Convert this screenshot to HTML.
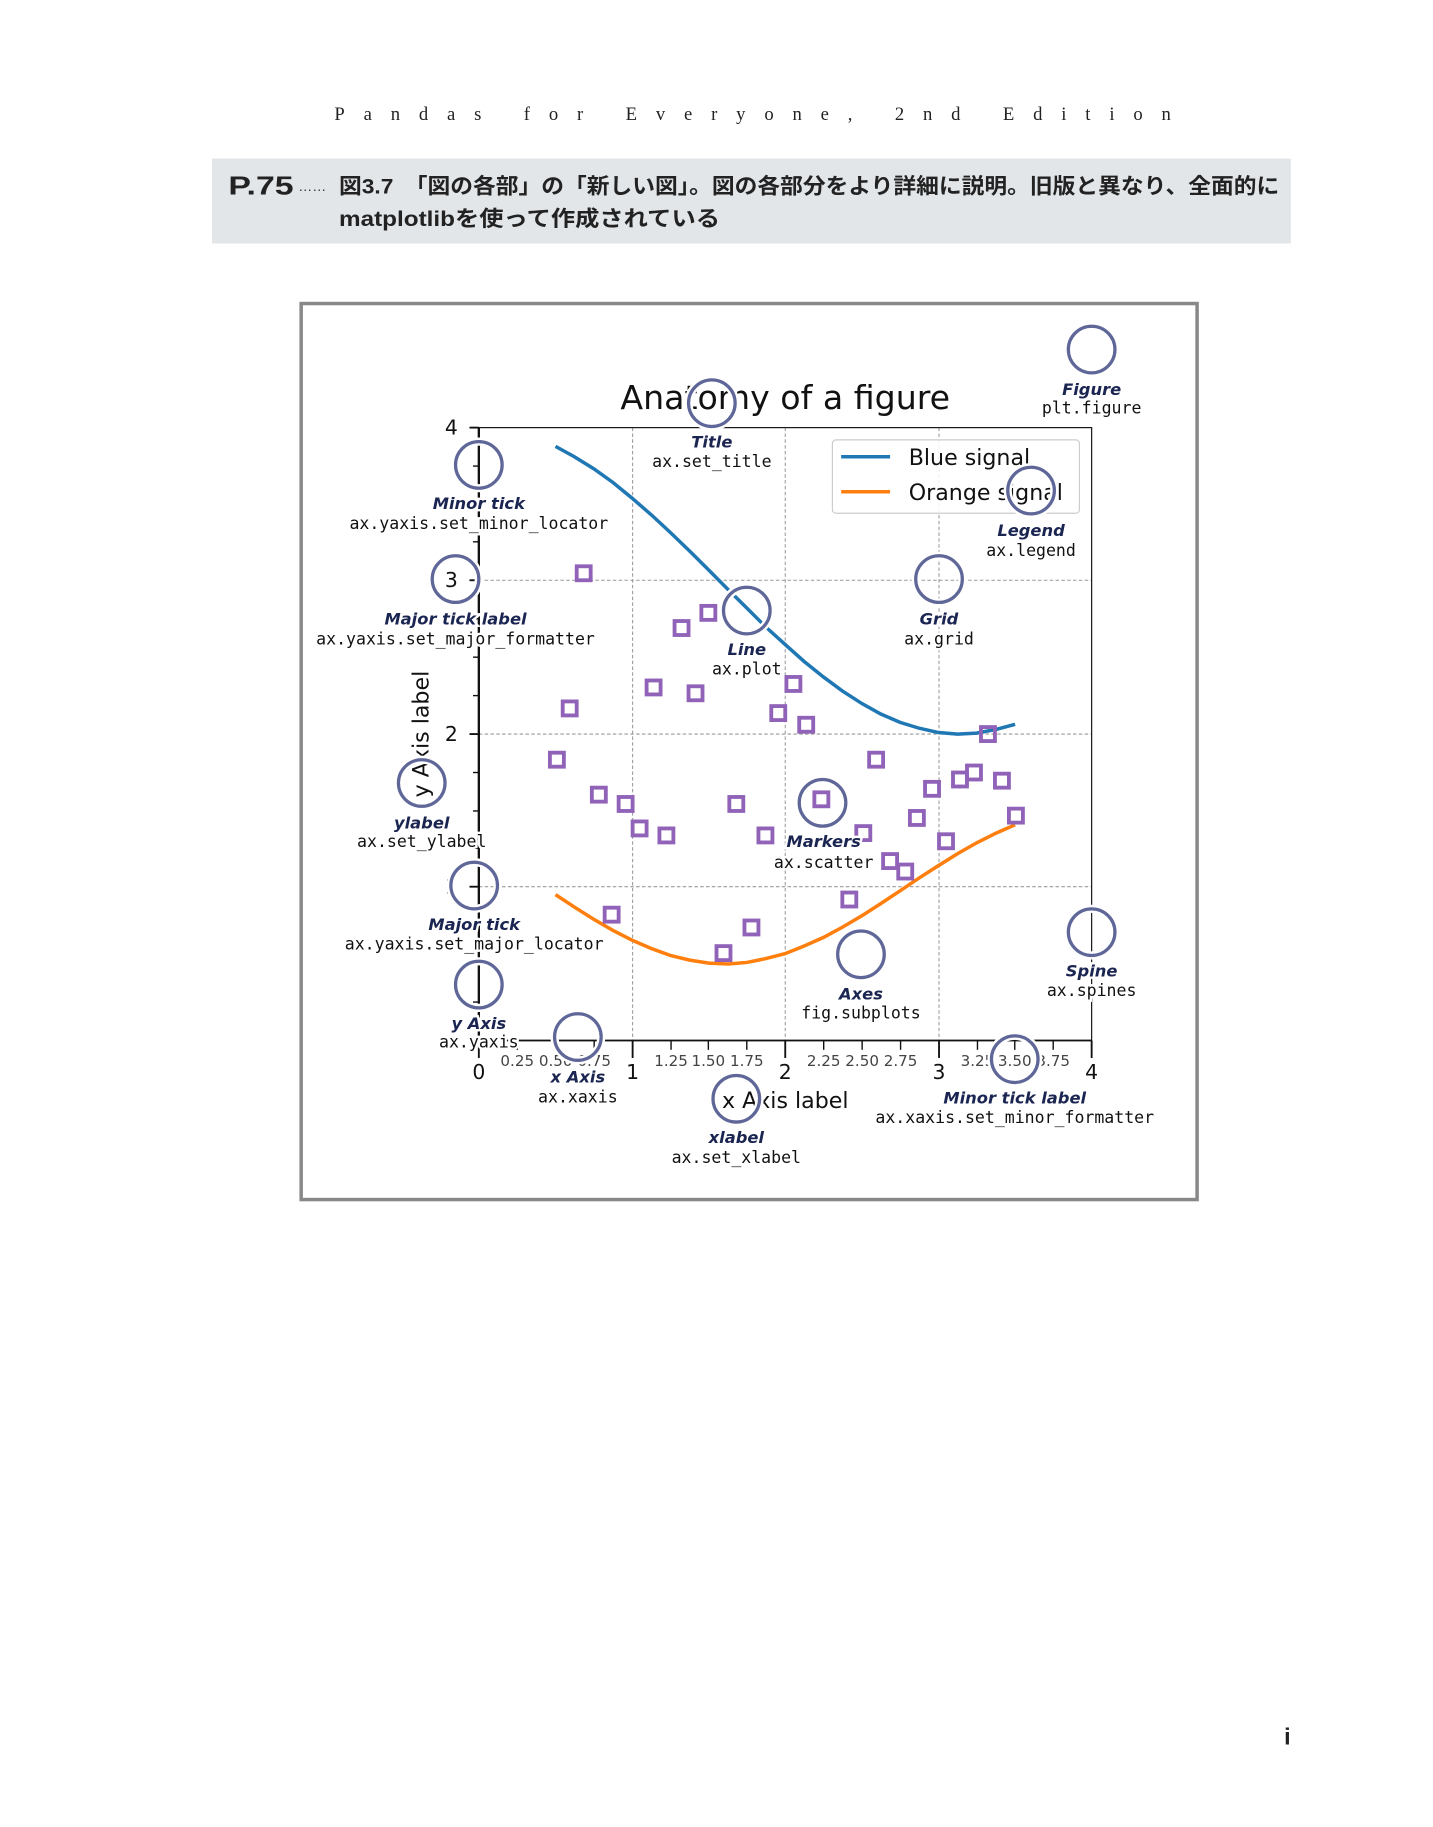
<!DOCTYPE html>
<html><head><meta charset="utf-8"><style>
html,body{margin:0;padding:0;background:#fff;}
svg{display:block;}
.an{font-family:"DejaVu Sans",sans-serif;font-weight:bold;font-style:italic;font-size:14px;fill:#1b2551;stroke:#fff;stroke-width:4;paint-order:stroke;}
.cd{font-family:"DejaVu Sans Mono","Liberation Mono",monospace;font-size:14.2px;fill:#111;stroke:#fff;stroke-width:4;paint-order:stroke;}
.tk{font-family:"DejaVu Sans",sans-serif;font-size:17.5px;fill:#111;}
.mt{font-family:"DejaVu Sans",sans-serif;font-size:13px;fill:#444;}
</style></head><body>
<svg width="1433" height="1827" viewBox="0 0 1230 1568" preserveAspectRatio="none" xmlns="http://www.w3.org/2000/svg">
<rect width="1230" height="1568" fill="#fff"/>
<text x="287" y="103" font-family="Liberation Serif,serif" font-size="16" textLength="718" lengthAdjust="spacing" fill="#222">Pandas for Everyone, 2nd Edition</text>
<rect x="182" y="136" width="926" height="73" fill="#e2e6e9"/>
<text x="196" y="167" font-family="Liberation Sans,sans-serif" font-weight="bold" font-size="22" fill="#222" textLength="56" lengthAdjust="spacingAndGlyphs">P.75</text>
<text x="256" y="164" font-family="Liberation Sans,sans-serif" font-size="12" fill="#333">……</text>
<text x="291" y="166" font-family="Liberation Sans,'Noto Sans CJK JP',sans-serif" font-weight="bold" font-size="18.5" textLength="807" lengthAdjust="spacingAndGlyphs" fill="#222">図3.7　「図の各部」の「新しい図」。図の各部分をより詳細に説明。旧版と異なり、全面的に</text>
<text x="291" y="194" font-family="Liberation Sans,'Noto Sans CJK JP',sans-serif" font-weight="bold" font-size="18.5" textLength="327" lengthAdjust="spacingAndGlyphs" fill="#222">matplotlibを使って作成されている</text>
<rect x="258.5" y="260.5" width="769" height="769" fill="#fff" stroke="#888" stroke-width="3"/>
<g stroke="#999" stroke-width="0.9" stroke-dasharray="3,2" fill="none">
<line x1="543" y1="367" x2="543" y2="893"/><line x1="674" y1="367" x2="674" y2="893"/><line x1="806" y1="367" x2="806" y2="893"/>
<line x1="411" y1="498" x2="937" y2="498"/><line x1="411" y1="630" x2="937" y2="630"/><line x1="411" y1="761" x2="937" y2="761"/>
</g>
<rect x="411" y="367" width="526" height="526" fill="none" stroke="#111" stroke-width="1"/>
<line x1="411" y1="367" x2="411" y2="893" stroke="#111" stroke-width="2"/>
<line x1="411" y1="893" x2="937" y2="893" stroke="#111" stroke-width="1.6"/>
<g stroke="#111" stroke-width="1.6">
<line x1="403" y1="367" x2="411" y2="367"/><line x1="403" y1="498" x2="411" y2="498"/><line x1="403" y1="630" x2="411" y2="630"/><line x1="403" y1="761" x2="411" y2="761"/><line x1="403" y1="893" x2="411" y2="893"/>
</g>
<g stroke="#111" stroke-width="1.2">
<line x1="406" y1="400" x2="411" y2="400"/><line x1="406" y1="433" x2="411" y2="433"/><line x1="406" y1="465" x2="411" y2="465"/><line x1="406" y1="531" x2="411" y2="531"/><line x1="406" y1="564" x2="411" y2="564"/><line x1="406" y1="597" x2="411" y2="597"/><line x1="406" y1="663" x2="411" y2="663"/><line x1="406" y1="696" x2="411" y2="696"/><line x1="406" y1="728" x2="411" y2="728"/><line x1="406" y1="794" x2="411" y2="794"/><line x1="406" y1="827" x2="411" y2="827"/><line x1="406" y1="860" x2="411" y2="860"/>
</g>
<g stroke="#111" stroke-width="1.6">
<line x1="411" y1="893" x2="411" y2="908"/><line x1="543" y1="893" x2="543" y2="908"/><line x1="674" y1="893" x2="674" y2="908"/><line x1="806" y1="893" x2="806" y2="908"/><line x1="937" y1="893" x2="937" y2="908"/>
</g>
<g stroke="#111" stroke-width="1.2">
<line x1="444" y1="893" x2="444" y2="901"/><line x1="477" y1="893" x2="477" y2="901"/><line x1="510" y1="893" x2="510" y2="901"/><line x1="576" y1="893" x2="576" y2="901"/><line x1="608" y1="893" x2="608" y2="901"/><line x1="641" y1="893" x2="641" y2="901"/><line x1="707" y1="893" x2="707" y2="901"/><line x1="740" y1="893" x2="740" y2="901"/><line x1="773" y1="893" x2="773" y2="901"/><line x1="839" y1="893" x2="839" y2="901"/><line x1="871" y1="893" x2="871" y2="901"/><line x1="904" y1="893" x2="904" y2="901"/>
</g>
<g class="tk" text-anchor="end">
<text x="393" y="373">4</text><text x="393" y="504">3</text><text x="393" y="636">2</text><text x="393" y="767">1</text>
</g>
<g class="tk" text-anchor="middle">
<text x="411" y="926">0</text><text x="543" y="926">1</text><text x="674" y="926">2</text><text x="806" y="926">3</text><text x="937" y="926">4</text>
</g>
<g class="mt" text-anchor="middle">
<text x="444" y="915">0.25</text><text x="477" y="915">0.50</text><text x="510" y="915">0.75</text><text x="576" y="915">1.25</text><text x="608" y="915">1.50</text><text x="641" y="915">1.75</text><text x="707" y="915">2.25</text><text x="740" y="915">2.50</text><text x="773" y="915">2.75</text><text x="839" y="915">3.25</text><text x="871" y="915">3.50</text><text x="904" y="915">3.75</text>
</g>
<polyline fill="none" stroke="#1f77b4" stroke-width="3" points="476.8,383.1 493,392 509.6,402.3 526,414 542.5,427.5 559,441.8 575.4,457 592,473 608.3,489.2 625,506 641.1,521.9 657,537.8 674,553.2 690,567.5 706.9,581.1 723,593 739.8,603.8 756,612.8 772.6,620 789,625 805.5,628.7 822,630 838.4,629.2 855,626 871.3,621.6"/>
<polyline fill="none" stroke="#ff7f0e" stroke-width="3" points="476.8,767.8 493,778.5 509.6,788.9 526,798.4 542.5,806.9 559,814 575.4,820 592,824 608.3,826.6 625,827.3 641.1,826 657,822.8 674,818.4 690,812 706.9,804.5 723,795.8 739.8,785.9 756,775.5 772.6,764.5 789,753.5 805.5,742.9 822,732.6 838.4,723.3 855,715 871.3,707.9"/>
<g fill="none" stroke="#9063b9" stroke-width="3.3">
<rect x="495" y="486" width="12" height="12"/><rect x="579" y="533" width="12" height="12"/><rect x="602" y="520" width="12" height="12"/><rect x="483" y="602" width="12" height="12"/><rect x="555" y="584" width="12" height="12"/><rect x="591" y="589" width="12" height="12"/><rect x="675" y="581" width="12" height="12"/><rect x="662" y="606" width="12" height="12"/><rect x="686" y="616" width="12" height="12"/><rect x="472" y="646" width="12" height="12"/><rect x="508" y="676" width="12" height="12"/><rect x="531" y="684" width="12" height="12"/><rect x="543" y="705" width="12" height="12"/><rect x="566" y="711" width="12" height="12"/><rect x="626" y="684" width="12" height="12"/><rect x="651" y="711" width="12" height="12"/><rect x="699" y="680" width="12" height="12"/><rect x="735" y="709" width="12" height="12"/><rect x="746" y="646" width="12" height="12"/><rect x="758" y="733" width="12" height="12"/><rect x="771" y="742" width="12" height="12"/><rect x="723" y="766" width="12" height="12"/><rect x="781" y="696" width="12" height="12"/><rect x="794" y="671" width="12" height="12"/><rect x="806" y="716" width="12" height="12"/><rect x="818" y="663" width="12" height="12"/><rect x="830" y="657" width="12" height="12"/><rect x="842" y="624" width="12" height="12"/><rect x="854" y="664" width="12" height="12"/><rect x="866" y="694" width="12" height="12"/><rect x="519" y="779" width="12" height="12"/><rect x="639" y="790" width="12" height="12"/><rect x="615" y="812" width="12" height="12"/>
</g>
<rect x="714.5" y="377.5" width="212" height="63" rx="3" fill="#fff" fill-opacity="0.85" stroke="#ccc" stroke-width="1"/>
<line x1="722" y1="392" x2="764" y2="392" stroke="#1f77b4" stroke-width="3"/>
<line x1="722" y1="422" x2="764" y2="422" stroke="#ff7f0e" stroke-width="3"/>
<text x="780" y="399" font-family="DejaVu Sans,sans-serif" font-size="19" fill="#111">Blue signal</text>
<text x="780" y="429" font-family="DejaVu Sans,sans-serif" font-size="19" fill="#111">Orange signal</text>
<text x="674" y="351" text-anchor="middle" font-family="DejaVu Sans,sans-serif" font-size="28.5" fill="#111">Anatomy of a figure</text>
<text transform="translate(368,630) rotate(-90)" text-anchor="middle" font-family="DejaVu Sans,sans-serif" font-size="19" fill="#111">y Axis label</text>
<text x="674" y="951" text-anchor="middle" font-family="DejaVu Sans,sans-serif" font-size="19" fill="#111">x Axis label</text>
<g fill="none">
<g stroke="#fff" stroke-width="7">
<circle cx="937" cy="300" r="20"/><circle cx="611" cy="346" r="20"/><circle cx="411" cy="399" r="20"/><circle cx="391" cy="497" r="20"/><circle cx="641" cy="524" r="20"/><circle cx="806" cy="497" r="20"/><circle cx="885" cy="421" r="20"/><circle cx="362" cy="672" r="20"/><circle cx="706" cy="689" r="20"/><circle cx="407" cy="760" r="20"/><circle cx="411" cy="845" r="20"/><circle cx="739" cy="819" r="20"/><circle cx="937" cy="800" r="20"/><circle cx="496" cy="890" r="20"/><circle cx="632" cy="943" r="20"/><circle cx="871" cy="909" r="20"/>
</g>
<g stroke="#5f6798" stroke-width="2.8">
<circle cx="937" cy="300" r="20"/><circle cx="611" cy="346" r="20"/><circle cx="411" cy="399" r="20"/><circle cx="391" cy="497" r="20"/><circle cx="641" cy="524" r="20"/><circle cx="806" cy="497" r="20"/><circle cx="885" cy="421" r="20"/><circle cx="362" cy="672" r="20"/><circle cx="706" cy="689" r="20"/><circle cx="407" cy="760" r="20"/><circle cx="411" cy="845" r="20"/><circle cx="739" cy="819" r="20"/><circle cx="937" cy="800" r="20"/><circle cx="496" cy="890" r="20"/><circle cx="632" cy="943" r="20"/><circle cx="871" cy="909" r="20"/>
</g>
</g>
<g text-anchor="middle">
<text class="an" x="937" y="339">Figure</text><text class="cd" x="937" y="355">plt.figure</text>
<text class="an" x="611" y="384">Title</text><text class="cd" x="611" y="401">ax.set_title</text>
<text class="an" x="411" y="437">Minor tick</text><text class="cd" x="411" y="454">ax.yaxis.set_minor_locator</text>
<text class="an" x="391" y="536">Major tick label</text><text class="cd" x="391" y="553">ax.yaxis.set_major_formatter</text>
<text class="an" x="641" y="562">Line</text><text class="cd" x="641" y="579">ax.plot</text>
<text class="an" x="806" y="536">Grid</text><text class="cd" x="806" y="553">ax.grid</text>
<text class="an" x="885" y="460">Legend</text><text class="cd" x="885" y="477">ax.legend</text>
<text class="an" x="362" y="711">ylabel</text><text class="cd" x="362" y="727">ax.set_ylabel</text>
<text class="an" x="707" y="727">Markers</text><text class="cd" x="707" y="745">ax.scatter</text>
<text class="an" x="407" y="798">Major tick</text><text class="cd" x="407" y="815">ax.yaxis.set_major_locator</text>
<text class="an" x="411" y="883">y Axis</text><text class="cd" x="411" y="899">ax.yaxis</text>
<text class="an" x="739" y="858">Axes</text><text class="cd" x="739" y="874">fig.subplots</text>
<text class="an" x="937" y="838">Spine</text><text class="cd" x="937" y="855">ax.spines</text>
<text class="an" x="496" y="929">x Axis</text><text class="cd" x="496" y="946">ax.xaxis</text>
<text class="an" x="632" y="981">xlabel</text><text class="cd" x="632" y="998">ax.set_xlabel</text>
<text class="an" x="871" y="947">Minor tick label</text><text class="cd" x="871" y="964">ax.xaxis.set_minor_formatter</text>
</g>
<text x="1105" y="1497" text-anchor="middle" font-family="Liberation Sans,sans-serif" font-weight="bold" font-size="20" fill="#222">i</text>
</svg>
</body></html>
